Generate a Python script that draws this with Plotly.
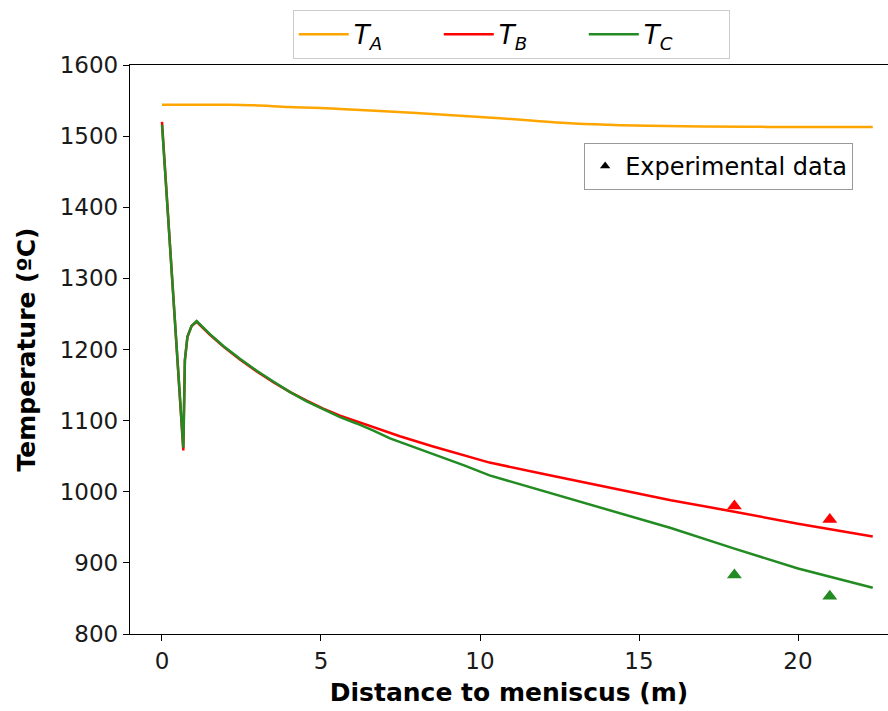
import plotly.graph_objects as go

# ---- data ----
x_A = [0, 1, 2, 2.8, 4, 5, 5.6, 7, 8.5, 10, 11.6, 12.7, 14, 15.3, 17, 19, 21, 22.35]
T_A = [1544, 1544, 1544, 1543.5, 1541, 1539.5, 1538, 1535, 1531, 1527, 1522, 1518.5,
       1516, 1514.5, 1513.5, 1513, 1513, 1513]

x_BC = [0, 0.57, 0.67, 0.72, 0.8, 0.93, 1.09, 1.5, 1.93, 2.45, 2.98, 3.5, 4.03, 4.55,
        5.07, 5.6, 6.12, 6.65, 7.17, 7.48, 8.5, 9.5, 10.3, 12, 14, 16, 18, 20, 22.35]
T_B = [1520, 1127, 1058, 1185, 1218, 1233, 1239, 1221, 1204, 1186, 1169, 1154, 1140, 1128,
       1117, 1107, 1099, 1090, 1082, 1078, 1064, 1051, 1041, 1025, 1006, 988, 972, 955, 937]
T_C = [1516, 1129, 1062, 1185, 1218, 1233, 1240, 1222, 1205, 1187, 1170, 1155, 1140, 1127,
       1116, 1105, 1096, 1086, 1075, 1070, 1054, 1037, 1023, 1001, 975, 949, 920, 892, 865]

x_exp = [18, 21]
exp_B = [980, 961]
exp_C = [883, 853]

ORANGE = "#FFA500"
RED = "#FF0000"
GREEN = "#228B22"
FONT = "DejaVu Sans"

fig = go.Figure()
fig.add_trace(go.Scatter(x=x_A, y=T_A, mode="lines", line=dict(color=ORANGE, width=2.5, shape="spline"),
                         name="<i>T</i><sub><i>A</i></sub>", legend="legend"))
fig.add_trace(go.Scatter(x=x_BC, y=T_B, mode="lines", line=dict(color=RED, width=2.5),
                         name="<i>T</i><sub><i>B</i></sub>", legend="legend"))
fig.add_trace(go.Scatter(x=x_BC, y=T_C, mode="lines", line=dict(color=GREEN, width=2.5),
                         name="<i>T</i><sub><i>C</i></sub>", legend="legend"))
fig.add_trace(go.Scatter(x=x_exp, y=exp_B, mode="markers",
                         marker=dict(symbol="triangle-up", color=RED, size=13), showlegend=False))
fig.add_trace(go.Scatter(x=x_exp, y=exp_C, mode="markers",
                         marker=dict(symbol="triangle-up", color=GREEN, size=13), showlegend=False))
fig.add_trace(go.Scatter(x=[None], y=[None], mode="markers",
                         marker=dict(symbol="triangle-up", color="black", size=9),
                         name="Experimental data", legend="legend2"))

axis_common = dict(showgrid=False, zeroline=False, showline=True, linecolor="black", linewidth=1.3,
                   ticks="outside", ticklen=6, tickwidth=1.3, tickcolor="black",
                   tickfont=dict(family=FONT, size=23, color="#1a1a1a"))

fig.update_layout(
    width=888, height=711,
    margin=dict(l=130, r=0, t=65, b=77),
    paper_bgcolor="white", plot_bgcolor="white",
    font=dict(family=FONT, color="black"),
    xaxis=dict(range=[-1.006, 22.83], tickvals=[0, 5, 10, 15, 20], mirror=True,
               title=dict(text="<b>Distance to meniscus (m)</b>", font=dict(family=FONT, size=25), standoff=10),
               **axis_common),
    yaxis=dict(range=[800, 1600], tickvals=[800, 900, 1000, 1100, 1200, 1300, 1400, 1500, 1600],
               title=dict(text="<b>Temperature (ºC)</b>", font=dict(family=FONT, size=25), standoff=16),
               **axis_common),
    legend=dict(orientation="h", x=0.503, xanchor="center", y=1.097, yanchor="top",
                bordercolor="#cccccc", borderwidth=1, bgcolor="white",
                font=dict(family=FONT, size=26), entrywidth=80, itemwidth=50),
    legend2=dict(x=0.954, xanchor="right", y=0.863, yanchor="top",
                 bordercolor="#999999", borderwidth=1, bgcolor="white",
                 font=dict(family=FONT, size=24), itemwidth=30),
    showlegend=True,
)

fig.write_html("out.html")
